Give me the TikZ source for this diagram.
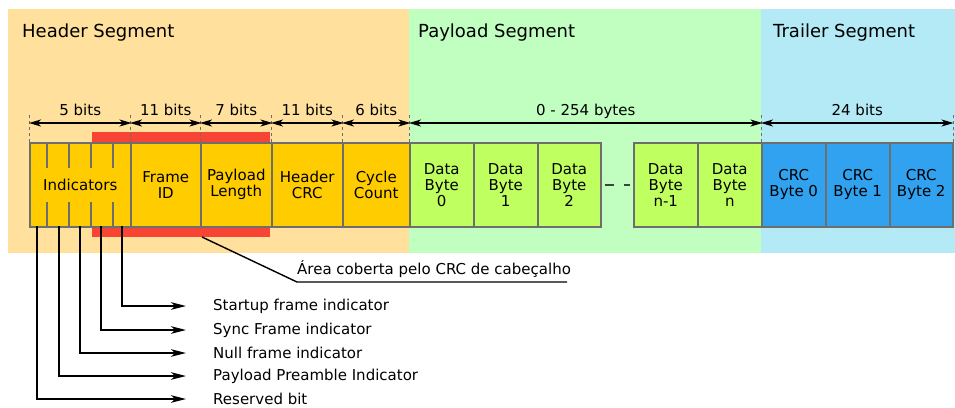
\documentclass[tikz,border=0pt]{standalone}
\usepackage{fontspec}
\setmainfont{DejaVu Sans}
\usetikzlibrary{arrows.meta}

\definecolor{hdrbg}{HTML}{FFE09C}
\definecolor{paybg}{HTML}{C0FFC0}
\definecolor{trlbg}{HTML}{B4EAF6}
\definecolor{hdrbox}{HTML}{FFCC00}
\definecolor{paybox}{HTML}{C0FF60}
\definecolor{crcbox}{HTML}{30A2F0}
\definecolor{crcband}{HTML}{F84434}
\definecolor{edge}{HTML}{6E6E6E}

\begin{document}
\begin{tikzpicture}[x=1pt,y=-1pt,
  field/.style={draw=edge, line width=1.5pt, minimum height=84pt, inner sep=0pt,
    align=center, anchor=north west, font=\fontsize{15}{16}\selectfont},
  hfield/.style={field, fill=hdrbox},
  pfield/.style={field, fill=paybox},
  cfield/.style={field, fill=crcbox},
  segtitle/.style={anchor=base west, inner sep=0pt, font=\fontsize{18}{20}\selectfont},
  dimtick/.style={draw=edge, line width=1pt, dash pattern=on 3pt off 3pt},
  dimline/.style={line width=1.3pt, {Stealth[length=12pt,width=7pt,inset=3.5pt]}-{Stealth[length=12pt,width=7pt,inset=3.5pt]}},
  dimlabel/.style={anchor=base, inner sep=0pt, yshift=8pt, font=\fontsize{15}{16}\selectfont},
  bittick/.style={draw=edge, line width=1.5pt},
  ptr/.style={line width=1.7pt, -{Stealth[length=15pt,width=7.5pt,inset=4pt]}},
  bitlabel/.style={anchor=west, inner sep=0pt, font=\fontsize{15}{16}\selectfont},
  gapdash/.style={draw=black!75, line width=2pt, dash pattern=on 9pt off 10pt}
]
\useasboundingbox (0,0) rectangle (955,407);

% segment backgrounds
\fill[hdrbg] (8,9) rectangle (409,253);
\fill[paybg] (409,9) rectangle (761,253);
\fill[trlbg] (761,9) rectangle (955,253);

\node[segtitle] (tHdr) at (22,37) {Header Segment};
\node[segtitle] (tPay) at (418,37) {Payload Segment};
\node[segtitle] (tTrl) at (773,37) {Trailer Segment};

% range protected by the header CRC
\fill[crcband] (92,132) rectangle (270,237);

% header fields
\node[hfield, minimum width=101pt] (ind)  at (29,142)  {Indicators};
\node[hfield, minimum width=70pt]  (fid)  at (130,142) {Frame\\ID};
\node[hfield, minimum width=71pt]  (plen) at (200,142) {Payload\\Length};
\node[hfield, minimum width=71pt]  (hcrc) at (271,142) {Header\\CRC};
\node[hfield, minimum width=67pt]  (cyc)  at (342,142) {Cycle\\Count};

% payload fields
\node[pfield, minimum width=64pt] (d0)  at (409,142) {Data\\Byte\\0};
\node[pfield, minimum width=64pt] (d1)  at (473,142) {Data\\Byte\\1};
\node[pfield, minimum width=63pt] (d2)  at (537,142) {Data\\Byte\\2};
\node[pfield, minimum width=64pt] (dn1) at (633,142) {Data\\Byte\\n-1};
\node[pfield, minimum width=64pt] (dn)  at (697,142) {Data\\Byte\\n};
\draw[gapdash] ([xshift=3pt]d2.east) -- ([xshift=-3pt]dn1.west);

% trailer fields
\node[cfield, minimum width=64pt] (c0) at (761,142) {CRC\\Byte 0};
\node[cfield, minimum width=64pt] (c1) at (825,142) {CRC\\Byte 1};
\node[cfield, minimum width=63pt] (c2) at (889,142) {CRC\\Byte 2};

% single-bit divisions of the indicator field
\foreach \x in {47,69,91,113} {
  \draw[bittick] (\x,142) -- (\x,168);
  \draw[bittick] (\x,202) -- (\x,226);
}

% dimension ticks
\foreach \n in {ind.north west, fid.north west, plen.north west, hcrc.north west,
                cyc.north west, d0.north west, c0.north west, c2.north east}
  \draw[dimtick] (\n) -- ([yshift=29pt]\n);

% dimension arrows
\draw[dimline] ([yshift=19pt]ind.north west)  -- ([yshift=19pt]ind.north east)  node[dimlabel, midway] {5 bits};
\draw[dimline] ([yshift=19pt]fid.north west)  -- ([yshift=19pt]fid.north east)  node[dimlabel, midway] {11 bits};
\draw[dimline] ([yshift=19pt]plen.north west) -- ([yshift=19pt]plen.north east) node[dimlabel, midway] {7 bits};
\draw[dimline] ([yshift=19pt]hcrc.north west) -- ([yshift=19pt]hcrc.north east) node[dimlabel, midway] {11 bits};
\draw[dimline] ([yshift=19pt]cyc.north west)  -- ([yshift=19pt]cyc.north east)  node[dimlabel, midway] {6 bits};
\draw[dimline] ([yshift=19pt]d0.north west)   -- ([yshift=19pt]dn.north east)   node[dimlabel, midway] {0 - 254 bytes};
\draw[dimline] ([yshift=19pt]c0.north west)   -- ([yshift=19pt]c2.north east)   node[dimlabel, midway] {24 bits};

% note on the CRC-protected area
\coordinate (leadA) at (202,237);
\coordinate (leadB) at (297,282);
\coordinate (leadC) at (567,282);
\node[anchor=base west, inner sep=0pt, font=\fontsize{15}{16}\selectfont] (crcnote) at (297,274)
  {Área coberta pelo CRC de cabeçalho};
\draw[line width=1.4pt] (leadA) -- (leadB) -- (leadC);

% indicator bit descriptions
\node[bitlabel] (lStart) at (213,306) {Startup frame indicator};
\node[bitlabel] (lSync)  at (213,330) {Sync Frame indicator};
\node[bitlabel] (lNull)  at (213,353) {Null frame indicator};
\node[bitlabel] (lPre)   at (213,376) {Payload Preamble Indicator};
\node[bitlabel] (lRes)   at (213,399) {Reserved bit};

\coordinate (bRes)   at (37,226);
\coordinate (bPre)   at (59,226);
\coordinate (bNull)  at (80,226);
\coordinate (bSync)  at (101,226);
\coordinate (bStart) at (122,226);

\draw[ptr] (bStart) |- ([xshift=-27pt]lStart.west);
\draw[ptr] (bSync)  |- ([xshift=-27pt]lSync.west);
\draw[ptr] (bNull)  |- ([xshift=-27pt]lNull.west);
\draw[ptr] (bPre)   |- ([xshift=-27pt]lPre.west);
\draw[ptr] (bRes)   |- ([xshift=-27pt]lRes.west);
\end{tikzpicture}
\end{document}
